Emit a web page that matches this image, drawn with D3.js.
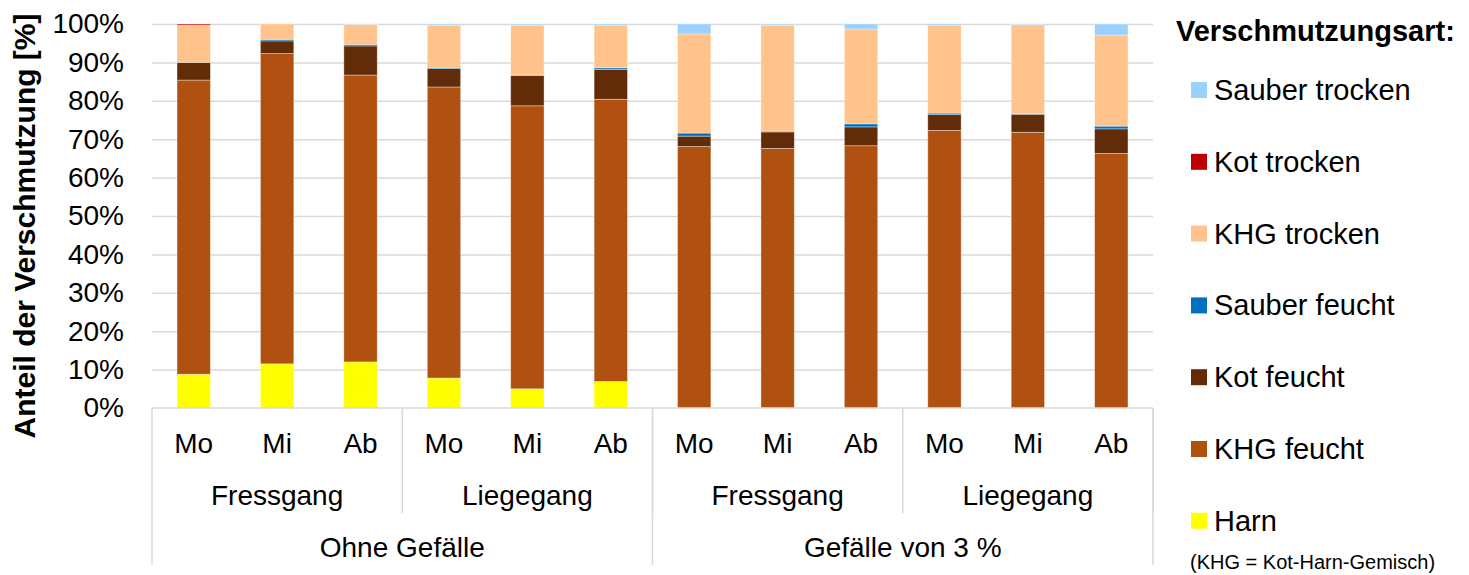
<!DOCTYPE html>
<html>
<head>
<meta charset="utf-8">
<script src="https://cdn.jsdelivr.net/npm/d3@7"></script>
<style>
  body { margin: 0; background: #fff; }
  text { font-family: "Liberation Sans", Arial, sans-serif; }
</style>
</head>
<body>
<div id="chart"></div>
<script>
// categories (three levels of the x axis)
var days = ["Mo", "Mi", "Ab"];
var corridors = ["Fressgang", "Liegegang"];
var slopes = ["Ohne Gefälle", "Gefälle von 3 %"];

// series values in %, one per bar (left to right), bottom to top of the stack
var harn          = [8.8, 11.5, 12.0, 7.8, 5.0, 6.9, 0, 0, 0, 0, 0, 0];
var khgFeucht     = [76.6, 80.8, 74.7, 75.8, 73.7, 73.5, 68.1, 67.6, 68.3, 72.3, 71.8, 66.3];
var kotFeucht     = [4.6, 3.3, 7.6, 4.8, 7.9, 7.8, 2.7, 4.3, 4.9, 4.1, 4.7, 6.4];
var sauberFeucht  = [0, 0.4, 0.4, 0.3, 0.1, 0.4, 0.8, 0.2, 0.8, 0.4, 0.1, 0.7];
var khgTrocken    = [9.7, 4.0, 5.2, 11.0, 13.0, 11.0, 25.8, 27.6, 24.7, 22.8, 23.2, 23.7];
var kotTrocken    = [0.3, 0, 0, 0, 0, 0, 0, 0, 0, 0, 0, 0];
var sauberTrocken = [0, 0, 0.1, 0.3, 0.3, 0.4, 2.6, 0.3, 1.3, 0.4, 0.2, 2.9];

var yTicks = [0, 10, 20, 30, 40, 50, 60, 70, 80, 90, 100];

var series = [
  { name: "Harn", values: harn, color: "#ffff00" },
  { name: "KHG feucht", values: khgFeucht, color: "#b05112" },
  { name: "Kot feucht", values: kotFeucht, color: "#632c08" },
  { name: "Sauber feucht", values: sauberFeucht, color: "#0070c0" },
  { name: "KHG trocken", values: khgTrocken, color: "#ffc38b" },
  { name: "Kot trocken", values: kotTrocken, color: "#c00000" },
  { name: "Sauber trocken", values: sauberTrocken, color: "#9bd1ff" }
];

var svgWidth = 1469;
var svgHeight = 575;
var margin = { top: 24, left: 152, right: 316, bottom: 167 };
var width = svgWidth - margin.left - margin.right;
var height = svgHeight - margin.top - margin.bottom;

var svg = d3.select("#chart")
  .append("svg")
  .attr("width", svgWidth)
  .attr("height", svgHeight);

var chartGroup = svg.append("g")
  .attr("transform", `translate(${margin.left}, ${margin.top})`);

// build the 12 bars
var bars = [];
slopes.forEach(function (s) {
  corridors.forEach(function (c) {
    days.forEach(function (d) {
      bars.push({ id: s + "|" + c + "|" + d, day: d, corridor: c, slope: s });
    });
  });
});
bars.forEach(function (b, i) {
  series.forEach(function (se) { b[se.name] = se.values[i]; });
});

var xScale = d3.scaleBand()
  .domain(bars.map(d => d.id))
  .range([0, width])
  .paddingInner(0.6)
  .paddingOuter(0.3);

var yScale = d3.scaleLinear()
  .domain([0, 100])
  .range([height, 0]);

var gridColor = "#d9d9d9";

// gridlines
var grid = chartGroup.append("g")
  .call(d3.axisLeft(yScale).tickValues(yTicks.slice(1)).tickSize(-width).tickFormat(""));
grid.select(".domain").remove();
grid.selectAll("line").attr("stroke", gridColor).attr("stroke-width", 1.5);

// y axis labels
var leftAxis = chartGroup.append("g")
  .call(d3.axisLeft(yScale).tickValues(yTicks).tickSize(0).tickPadding(28).tickFormat(d => d + "%"));
leftAxis.select(".domain").remove();
leftAxis.selectAll("text")
  .attr("font-size", "28px")
  .attr("fill", "#000")
  .attr("font-family", "Liberation Sans, Arial, sans-serif");

// stacked bars
var stack = d3.stack().keys(series.map(s => s.name));
var stacked = stack(bars);

chartGroup.selectAll(".layer")
  .data(stacked)
  .enter()
  .append("g")
  .attr("fill", (d, i) => series[i].color)
  .selectAll("rect")
  .data(d => d.filter(p => p[1] - p[0] > 0))
  .enter()
  .append("rect")
  .attr("x", d => xScale(d.data.id))
  .attr("y", d => yScale(d[1]))
  .attr("width", xScale.bandwidth())
  .attr("height", d => yScale(d[0]) - yScale(d[1]))
  .attr("stroke", "#ffffff")
  .attr("stroke-opacity", 0.45)
  .attr("stroke-width", 0.8);

// category axis
var step = xScale.step();
var half = step * 0.3;
chartGroup.append("line")
  .attr("x1", 0).attr("x2", width)
  .attr("y1", height).attr("y2", height)
  .attr("stroke", gridColor).attr("stroke-width", 1.5);

chartGroup.selectAll(".daylabel")
  .data(bars)
  .enter()
  .append("text")
  .attr("x", d => xScale(d.id) + xScale.bandwidth() / 2)
  .attr("y", height + 45)
  .attr("text-anchor", "middle")
  .attr("font-size", "28px")
  .attr("fill", "#000")
  .text(d => d.day);

// corridor groups
var corridorGroups = [];
slopes.forEach(function (s) {
  corridors.forEach(function (c) {
    var members = bars.filter(b => b.slope === s && b.corridor === c);
    corridorGroups.push({ name: c, first: members[0].id, last: members[members.length - 1].id });
  });
});
var slopeGroups = slopes.map(function (s) {
  var members = bars.filter(b => b.slope === s);
  return { name: s, first: members[0].id, last: members[members.length - 1].id };
});

function gx0(g) { return xScale(g.first) - half; }
function gx1(g) { return xScale(g.last) + xScale.bandwidth() + half; }

chartGroup.selectAll(".corrsep")
  .data(corridorGroups)
  .enter()
  .append("line")
  .attr("x1", d => gx1(d)).attr("x2", d => gx1(d))
  .attr("y1", height).attr("y2", height + 105)
  .attr("stroke", gridColor).attr("stroke-width", 1.5);

chartGroup.selectAll(".corrlabel")
  .data(corridorGroups)
  .enter()
  .append("text")
  .attr("x", d => (gx0(d) + gx1(d)) / 2)
  .attr("y", height + 97)
  .attr("text-anchor", "middle")
  .attr("font-size", "28px")
  .attr("fill", "#000")
  .text(d => d.name);

var slopeEdges = [gx0(slopeGroups[0])].concat(slopeGroups.map(gx1));
chartGroup.selectAll(".slopesep")
  .data(slopeEdges)
  .enter()
  .append("line")
  .attr("x1", d => d).attr("x2", d => d)
  .attr("y1", height).attr("y2", height + 157)
  .attr("stroke", gridColor).attr("stroke-width", 1.5);

chartGroup.selectAll(".slopelabel")
  .data(slopeGroups)
  .enter()
  .append("text")
  .attr("x", d => (gx0(d) + gx1(d)) / 2)
  .attr("y", height + 149)
  .attr("text-anchor", "middle")
  .attr("font-size", "28px")
  .attr("fill", "#000")
  .text(d => d.name);

// y axis title
svg.append("text")
  .attr("transform", "translate(35, 226) rotate(-90)")
  .attr("text-anchor", "middle")
  .attr("font-size", "30px")
  .attr("font-weight", "bold")
  .attr("fill", "#000")
  .text("Anteil der Verschmutzung [%]");

// legend
var legend = svg.append("g");
legend.append("text")
  .attr("x", 1176)
  .attr("y", 41)
  .attr("font-size", "29px")
  .attr("font-weight", "bold")
  .attr("fill", "#000")
  .text("Verschmutzungsart:");

var legendItems = series.slice().reverse();
var legendRow = legend.selectAll(".item")
  .data(legendItems)
  .enter()
  .append("g")
  .attr("transform", (d, i) => `translate(1191, ${90 + i * 71.8})`);

legendRow.append("rect")
  .attr("x", 0).attr("y", -8)
  .attr("width", 16).attr("height", 16)
  .attr("fill", d => d.color);

legendRow.append("text")
  .attr("x", 23)
  .attr("y", 10)
  .attr("font-size", "29px")
  .attr("fill", "#000")
  .text(d => d.name);

legend.append("text")
  .attr("x", 1190)
  .attr("y", 569)
  .attr("font-size", "20px")
  .attr("fill", "#000")
  .text("(KHG = Kot-Harn-Gemisch)");
</script>
</body>
</html>
